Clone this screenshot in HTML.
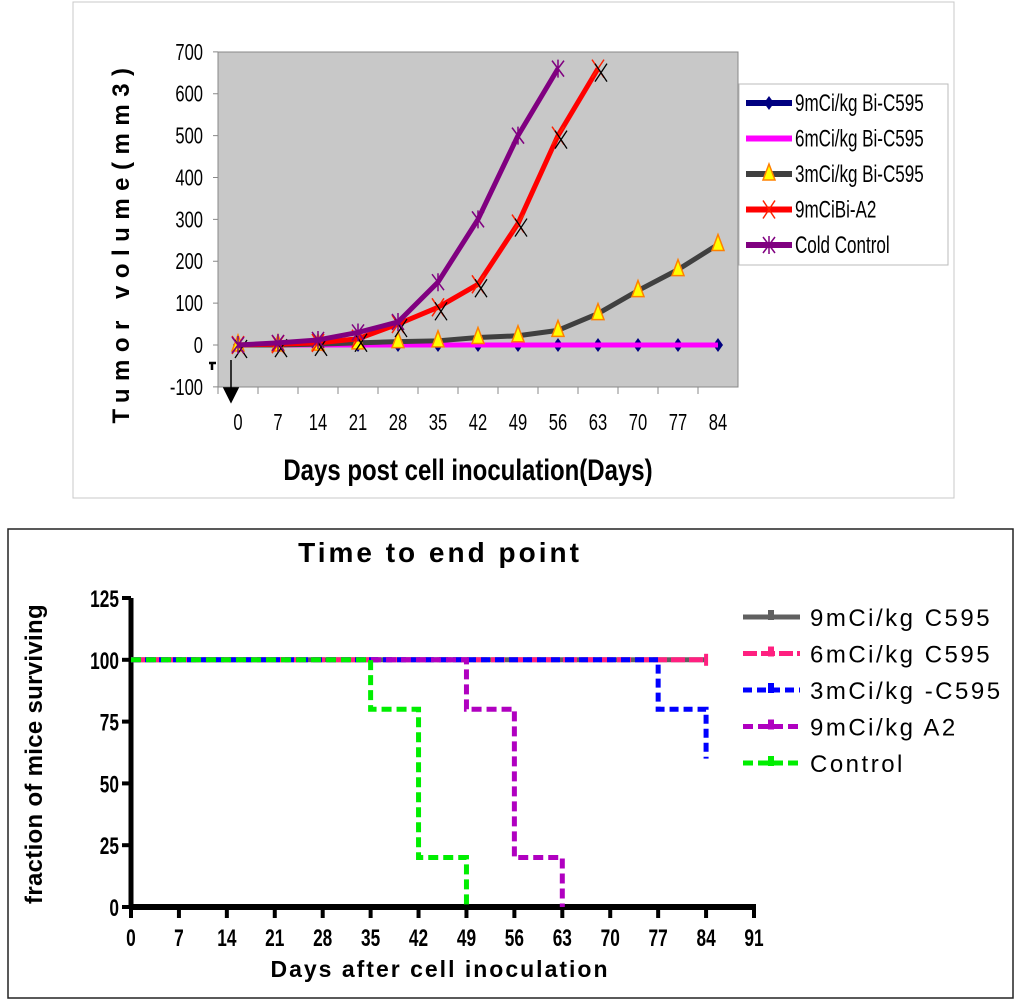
<!DOCTYPE html>
<html><head><meta charset="utf-8"><style>
html,body{margin:0;padding:0;background:#fff;}
svg{display:block;font-family:"Liberation Sans",Arial,sans-serif;}
</style></head><body>
<svg id="s" width="1024" height="1006" viewBox="0 0 1024 1006">
<rect x="73" y="2" width="881" height="496" fill="#fff" stroke="#c8c8c8"/>
<rect x="218" y="52" width="520" height="335" fill="#c8c8c8" stroke="#888"/>
<g id="topChart"></g>
<text x="0" y="0" transform="translate(129,242) rotate(-90)" font-size="24" font-weight="bold" letter-spacing="7.5" text-anchor="middle">Tumor volume(mm3)</text>
<text x="468" y="480" font-size="30" font-weight="bold" text-anchor="middle" transform="translate(468,0) scale(0.8,1) translate(-468,0)">Days post cell inoculation(Days)</text>
<rect x="739" y="84" width="209" height="181" fill="#fff" stroke="#bbb"/>
<g id="topleg"></g>
<rect x="8" y="529" width="1005" height="469" fill="none" stroke="#222" stroke-width="1.5"/>
<text x="440" y="562" font-size="28" font-weight="bold" letter-spacing="3" text-anchor="middle">Time to end point</text>
<text transform="translate(42,754) rotate(-90)" font-size="24" font-weight="bold" text-anchor="middle" letter-spacing="0.3">fraction of mice surviving</text>
<text x="440" y="977" font-size="23" font-weight="bold" letter-spacing="2" text-anchor="middle">Days after cell inoculation</text>
<g id="botChart"></g>
<g id="botleg"></g>
</svg>
<script>
var NS="http://www.w3.org/2000/svg";
function mk(p,t,a){var e=document.createElementNS(NS,t);for(var k in a)e.setAttribute(k,a[k]);p.appendChild(e);return e;}
// ---- top chart data ----
var topCategories=[0,7,14,21,28,35,42,49,56,63,70,77,84];
var topYTicks=[-100,0,100,200,300,400,500,600,700];
var s9mCi=[0,0,0,0,0,0,0,0,0,0,0,0,0];
var s6mCi=[0,0,0,0,0,0,0,0,0,0,0,0,0];
var s3mCi=[0,0,2,5,8,10,18,22,35,75,130,180,240];
var sA2=[0,2,5,15,50,90,145,290,500,660];
var sCold=[0,5,12,30,55,150,300,500,660];
var topNames=["9mCi/kg Bi-C595","6mCi/kg Bi-C595","3mCi/kg Bi-C595","9mCiBi-A2","Cold Control"];
// ---- bottom chart data ----
var botXTicks=[0,7,14,21,28,35,42,49,56,63,70,77,84,91];
var botYTicks=[0,25,50,75,100,125];
var km9Days=[0,84],km9Vals=[100,100];
var km6Days=[0,84],km6Vals=[100,100];
var km3Days=[0,77,84],km3Vals=[100,80,60];
var kmA2Days=[0,49,56,63],kmA2Vals=[100,80,20,0];
var kmCtlDays=[0,35,42,49],kmCtlVals=[100,80,20,0];
var botNames=["9mCi/kg C595","6mCi/kg C595","3mCi/kg -C595","9mCi/kg A2","Control"];

var topG=document.getElementById('topChart');
function tx(i){return 238+i*40;}
function ty(v){return 345-v*(335/800);}
topYTicks.forEach(function(v){
  var l=mk(topG,'line',{x1:213,x2:218,y1:ty(v),y2:ty(v),stroke:'#888'});
  
  
  var t=mk(topG,'text',{x:203,y:ty(v)+8,'font-size':23,'text-anchor':'end',transform:'translate(203,0) scale(0.72,1) translate(-203,0)'});t.textContent=v;
  
  
});
topCategories.forEach(function(c,i){
  var l=mk(topG,'line',{x1:218+i*40,x2:218+i*40,y1:387,y2:394,stroke:'#888'});
  
  
  var t=mk(topG,'text',{x:tx(i),y:430,'font-size':23,'text-anchor':'middle',transform:'translate('+tx(i)+',0) scale(0.72,1) translate('+(-tx(i))+',0)'});t.textContent=c;
  
  
});
mk(topG,'path',{d:'M231,360 L231,388 M224,388 L238,388 L231,402 Z',stroke:'#000','stroke-width':1.5,fill:'#000'});
mk(topG,'path',{d:'M209,363 L216,363 M212,363 L212,370',stroke:'#000','stroke-width':2.5});
function pts(arr){return arr.map(function(v,i){return tx(i)+','+ty(v);}).join(' ');}
function marker(g,type,x,y){
  if(type==='diamond')mk(g,'path',{d:'M'+x+','+(y-7)+' L'+(x+5)+','+y+' L'+x+','+(y+7)+' L'+(x-5)+','+y+' Z',fill:'#000080'});
  else if(type==='tri')mk(g,'path',{d:'M'+x+','+(y-10)+' L'+(x+6)+','+(y+6)+' L'+(x-6)+','+(y+6)+' Z',fill:'#ffff00',stroke:'#ff8000','stroke-width':1.5});
  else if(type==='x'){mk(g,'path',{d:'M'+(x-6)+','+(y-9)+' L'+(x+6)+','+(y+9)+' M'+(x+6)+','+(y-9)+' L'+(x-6)+','+(y+9),stroke:'#ff2000','stroke-width':1.5});
    mk(g,'path',{d:'M'+(x-3)+','+(y-5)+' L'+(x+9)+','+(y+13)+' M'+(x+9)+','+(y-5)+' L'+(x-3)+','+(y+13),stroke:'#000','stroke-width':1.3});}
  else if(type==='star')mk(g,'path',{d:'M'+(x-6)+','+(y-8)+' L'+(x+6)+','+(y+8)+' M'+(x+6)+','+(y-8)+' L'+(x-6)+','+(y+8)+' M'+x+','+(y-9)+' L'+x+','+(y+9),stroke:'#800080','stroke-width':1.5});
}
var topSeries=[[s9mCi,'#000080','diamond'],[s6mCi,'#ff00ff',null],[s3mCi,'#404040','tri'],[sA2,'#ff0000','x'],[sCold,'#800080','star']];
var snames=['series-9mci-bi-c595','series-6mci-bi-c595','series-3mci-bi-c595','series-9mci-bi-a2','series-cold-control'];
topSeries.forEach(function(sr,k){
  var g=mk(topG,'g',{});
  
  
  mk(g,'polyline',{points:pts(sr[0]),fill:'none',stroke:sr[1],'stroke-width':5,'stroke-linejoin':'round'});
  if(sr[2]) sr[0].forEach(function(v,i){marker(g,sr[2],tx(i),ty(v));});
});
var tl=document.getElementById('topleg');
topSeries.forEach(function(sr,k){
  var y=103+k*35.5;
  var g=mk(tl,'g',{});
  
  
  mk(g,'line',{x1:746,x2:792,y1:y,y2:y,stroke:sr[1],'stroke-width':6});
  if(sr[2]){ if(sr[2]==='x')mk(g,'path',{d:'M763,'+(y-9)+' L775,'+(y+9)+' M775,'+(y-9)+' L763,'+(y+9),stroke:'#ff2000','stroke-width':1.5}); else marker(g,sr[2],769,y);}
  var t=mk(g,'text',{x:795,y:y+8,'font-size':24,transform:'translate(795,0) scale(0.71,1) translate(-795,0)'});t.textContent=topNames[k];
});
// ---- bottom ----
var botG=document.getElementById('botChart');
function bx(d){return 131+d*(623/91);}
function by(v){return 907-v*(309/125);}
botYTicks.forEach(function(v){
  var l=mk(botG,'line',{x1:122,x2:131,y1:by(v),y2:by(v),stroke:'#000','stroke-width':4});
  
  
  var t=mk(botG,'text',{x:119,y:by(v)+9,'font-size':24,'font-weight':'bold','text-anchor':'end',transform:'translate(119,0) scale(0.72,1) translate(-119,0)'});t.textContent=v;
  
  
});
botXTicks.forEach(function(d){
  var l=mk(botG,'line',{x1:bx(d),x2:bx(d),y1:907,y2:918,stroke:'#000','stroke-width':4});
  
  
  var t=mk(botG,'text',{x:bx(d),y:946,'font-size':24,'font-weight':'bold','text-anchor':'middle',transform:'translate('+bx(d)+',0) scale(0.72,1) translate('+(-bx(d))+',0)'});t.textContent=d;
  
  
});
mk(botG,'line',{x1:131,x2:131,y1:598,y2:909,stroke:'#000','stroke-width':5});
mk(botG,'line',{x1:129,x2:756,y1:907,y2:907,stroke:'#000','stroke-width':6});
function step(days,vals){var d='M'+bx(days[0])+','+by(vals[0]);for(var i=1;i<days.length;i++){d+=' L'+bx(days[i])+','+by(vals[i-1])+' L'+bx(days[i])+','+by(vals[i]);}return d;}
var kms=[[km9Days,km9Vals,'#606060','none'],[km6Days,km6Vals,'#ff2080','14 4'],[km3Days,km3Vals,'#0000ff','9 5'],[kmA2Days,kmA2Vals,'#b000c0','10 5'],[kmCtlDays,kmCtlVals,'#00ee00','10 5']];
var knames=['km-9mci-c595','km-6mci-c595','km-3mci-c595','km-9mci-a2','km-control'];
kms.forEach(function(sr,k){
  var p=mk(botG,'path',{d:step(sr[0],sr[1]),fill:'none',stroke:sr[2],'stroke-width':5,'stroke-dasharray':sr[3]});
  
  
});
mk(botG,'line',{x1:bx(84),x2:bx(84),y1:by(100)-6,y2:by(100)+6,stroke:'#ff2080','stroke-width':4});
var bl=document.getElementById('botleg');
kms.forEach(function(sr,k){
  var y=617+k*36.5;
  var g=mk(bl,'g',{});
  
  
  mk(g,'line',{x1:743,x2:800,y1:y,y2:y,stroke:sr[2],'stroke-width':5,'stroke-dasharray':sr[3]});
  mk(g,'path',{d:'M771,'+(y-7)+' L771,'+(y+3),stroke:sr[2],'stroke-width':6});
  var t=mk(g,'text',{x:810,y:y+9,'font-size':24,'letter-spacing':2.5});t.textContent=botNames[k];
});
</script>
</body></html>
